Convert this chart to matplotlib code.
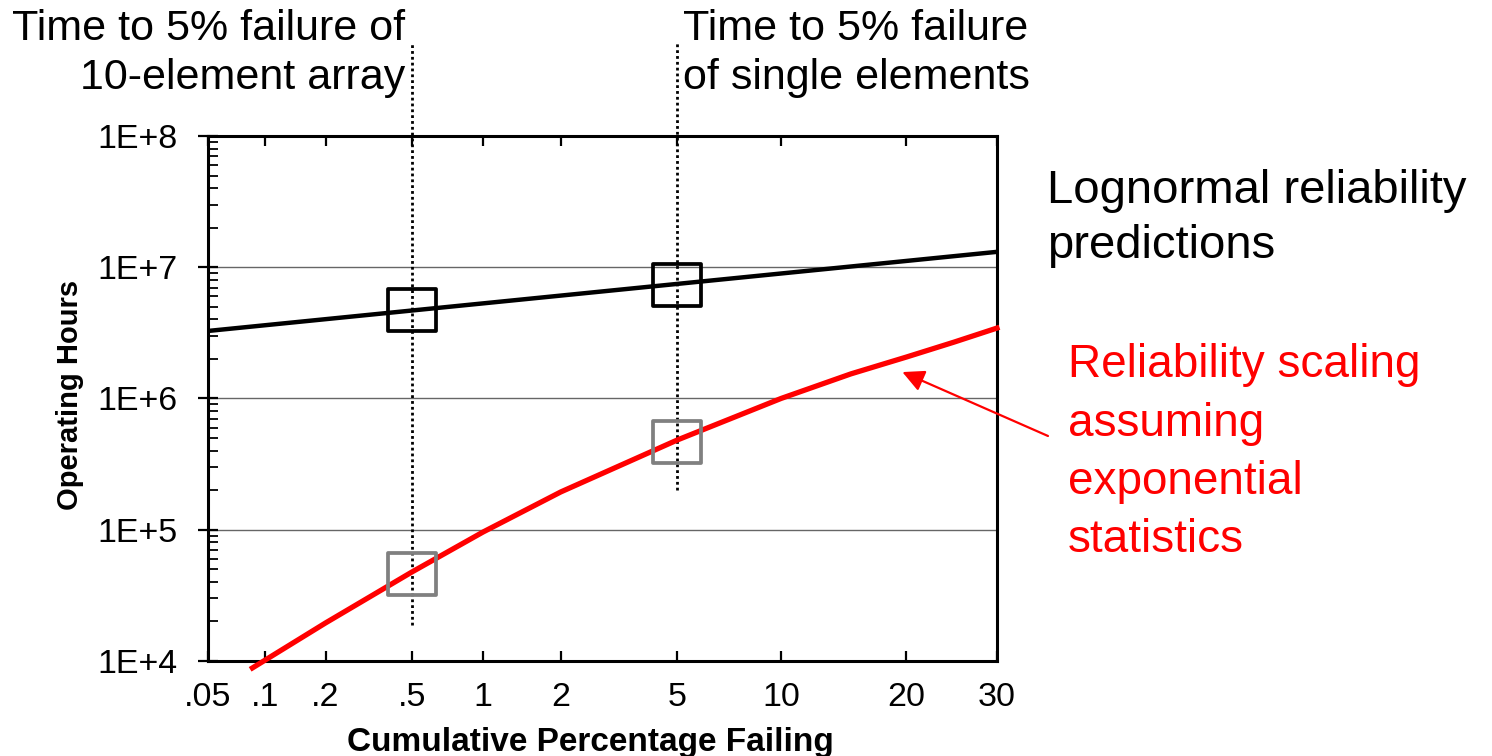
import math
import numpy as np
import matplotlib
matplotlib.use('Agg')
import matplotlib.pyplot as plt
from matplotlib.path import Path

plt.rcParams['font.family'] = ['Liberation Sans', 'DejaVu Sans']

# --- datos ---
pct_ticks = [0.05, 0.1, 0.2, 0.5, 1, 2, 5, 10, 20, 30]
pct_labels = ['.05', '.1', '.2', '.5', '1', '2', '5', '10', '20', '30']
hour_ticks = [1e4, 1e5, 1e6, 1e7, 1e8]
hour_labels = ['1E+4', '1E+5', '1E+6', '1E+7', '1E+8']

# lognormal (recta en papel probabilistico)
logn_pct = [0.05, 30]
logn_hours = [3.27e6, 1.31e7]

# escalado con estadistica exponencial
exp_pct = [0.086, 0.2, 0.5, 1, 2, 5, 10, 15, 20, 25, 30]
exp_hours = [8.85e3, 1.95e4, 4.76e4, 9.6e4, 1.94e5, 4.83e5, 1.0e6, 1.54e6, 2.07e6, 2.69e6, 3.44e6]

# cuadros marcadores
box_pct = [0.5, 5]
box_black = [4.72e6, 7.33e6]
box_gray = [4.56e4, 4.63e5]

# lineas punteadas verticales (x, y inferior, y superior)
guide_pct = [0.5, 5]
guide_low = [1.88e4, 2.0e5]
guide_high = [5.1e8, 5.1e8]

# --- escala de probabilidad normal ---
_erf = np.vectorize(math.erf, otypes=[float])
z_grid = np.linspace(-7, 7, 14001)
p_grid = 50.0 * (1 + _erf(z_grid / math.sqrt(2)))


def pct_to_z(p):
    return np.interp(p, p_grid, z_grid)


def z_to_pct(z):
    return 50.0 * (1 + _erf(np.asarray(z, dtype=float) / math.sqrt(2)))


fig = plt.figure(figsize=(14.92, 7.56), dpi=100)
ax = fig.add_axes([0.1394, 0.1257, 0.5288, 0.6944])
ax.set_xscale('function', functions=(pct_to_z, z_to_pct))
ax.set_yscale('log')
ax.set_xlim(0.05, 30)
ax.set_ylim(1e4, 1e8)

ax.grid(True, axis='y', which='major', color='0.4', lw=1.0)
ax.set_axisbelow(True)

rect = Path([(-1.15, -1), (1.15, -1), (1.15, 1), (-1.15, 1), (-1.15, -1)], closed=True)

for xp, lo, hi in zip(guide_pct, guide_low, guide_high):
    ax.plot([xp, xp], [lo, hi], color='black', lw=2, ls=(0, (1, 1.1)), clip_on=False, zorder=2)

ax.plot(logn_pct, logn_hours, color='black', lw=3.2, zorder=3)
ax.plot(exp_pct, exp_hours, color='#ff0000', lw=3.8, clip_on=False, zorder=3)
ax.plot(box_pct, box_black, ls='none', marker=rect, ms=34.6, mfc='none', mec='black', mew=2.7, zorder=4)
ax.plot(box_pct, box_gray, ls='none', marker=rect, ms=34.6, mfc='none', mec='#808080', mew=2.7, zorder=4)

ax.set_xticks(pct_ticks, pct_labels)
ax.set_yticks(hour_ticks, hour_labels)
ax.tick_params(axis='x', which='both', direction='in', top=True, bottom=True,
               length=7, width=1.6, pad=15, labelsize=24.5)
ax.tick_params(axis='y', which='major', direction='inout', length=14, width=1.6,
               pad=15, labelsize=24.5, right=False)
ax.tick_params(axis='y', which='minor', direction='in', length=7, width=1.3, right=False)
ax.xaxis.set_minor_locator(matplotlib.ticker.NullLocator())

for s in ax.spines.values():
    s.set_linewidth(2.2)

ax.set_xlabel('Cumulative Percentage Failing', fontsize=24, fontweight='bold')
ax.xaxis.set_label_coords(0.485, -0.126)
ax.set_ylabel('Operating Hours', fontsize=21, fontweight='bold')
ax.yaxis.set_label_coords(-0.157, 0.507)

# textos de anotacion
fig.text(0.2714, 0.988, 'Time to 5% failure of\n10-element array', ha='right', va='top',
         multialignment='right', fontsize=31, linespacing=1.3)
fig.text(0.4578, 0.988, 'Time to 5% failure\nof single elements', ha='left', va='top',
         fontsize=31, linespacing=1.3)
fig.text(0.7017, 0.776, 'Lognormal reliability\npredictions', ha='left', va='top',
         fontsize=34, linespacing=1.3)
fig.text(0.7158, 0.546, 'Reliability scaling\nassuming\nexponential\nstatistics', ha='left', va='top',
         fontsize=33, linespacing=1.42, color='#ff0000')

ax.annotate('', xy=(19.6, 1.59e6), xycoords='data',
            xytext=(0.7024, 0.4233), textcoords='figure fraction',
            arrowprops=dict(arrowstyle='-|>,head_length=0.6,head_width=0.3', color='#ff0000', lw=1.6,
                            mutation_scale=22, shrinkA=0, shrinkB=0))

fig.savefig('out.png', dpi=100)
